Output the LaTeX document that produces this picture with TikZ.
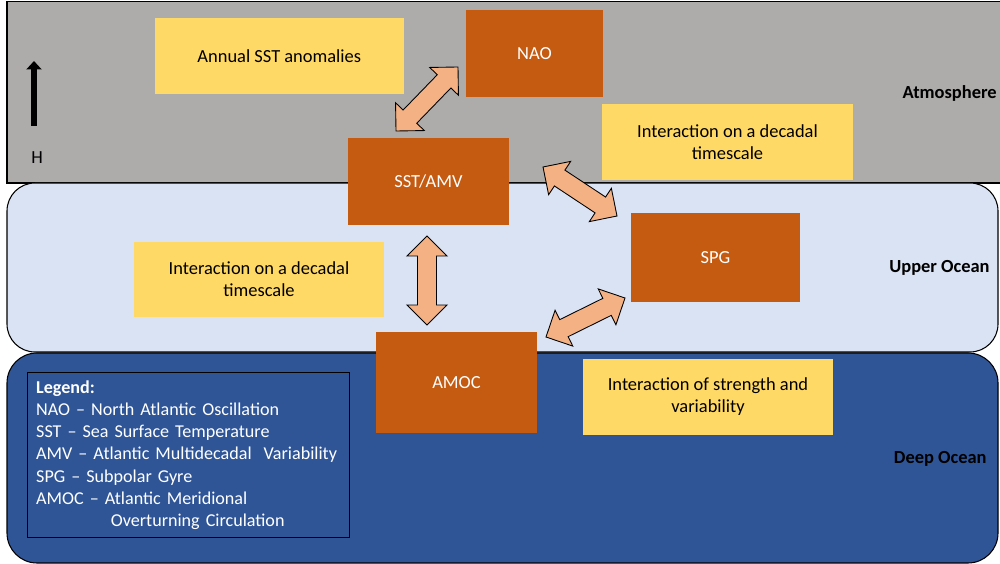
\documentclass[tikz,border=0pt]{standalone}
\usepackage{fontspec}
\setmainfont{Carlito}
\usetikzlibrary{calc,arrows.meta}

\definecolor{atmgray}{HTML}{AEABAB}
\definecolor{upperblue}{HTML}{DAE3F3}
\definecolor{deepblue}{HTML}{2F5597}
\definecolor{procorange}{HTML}{C55A11}
\definecolor{noteyellow}{HTML}{FFD966}
\definecolor{linkpeach}{HTML}{F4B183}

% block double arrow between two named points
\newcommand\fatlink[2]{%
  \coordinate (#1h) at ($(#1)!0.4cm!(#2)$);
  \coordinate (#2h) at ($(#2)!0.4cm!(#1)$);
  \draw[linkarrow] (#1)
    -- ($(#1h)!0.4cm!90:(#2)$) -- ($(#1h)!0.19cm!90:(#2)$)
    -- ($(#2h)!0.19cm!-90:(#1)$) -- ($(#2h)!0.4cm!-90:(#1)$)
    -- (#2)
    -- ($(#2h)!0.4cm!90:(#1)$) -- ($(#2h)!0.19cm!90:(#1)$)
    -- ($(#1h)!0.19cm!-90:(#2)$) -- ($(#1h)!0.4cm!-90:(#2)$)
    -- cycle;}

\tikzset{
  txt/.style={font=\fontsize{10.5pt}{12.6pt}\selectfont},
  layer/.style={draw=black, line width=0.6pt},
  proc/.style={txt, fill=procorange, text=white, inner sep=0pt},
  note/.style={txt, fill=noteyellow, text=black, align=center, inner sep=0pt},
  zone/.style={txt, font=\fontsize{10.5pt}{12.6pt}\selectfont\bfseries, text=black, anchor=east, inner sep=0pt},
  linkarrow/.style={fill=linkpeach, draw=black, line width=0.5pt, line join=miter},
}

\begin{document}
\begin{tikzpicture}[x=0.02cm, y=-0.02cm]
  \path[use as bounding box, fill=white] (0,0) rectangle (1000,564);
  \clip (0,0) rectangle (1000,564);

  % layers
  \draw[layer, fill=atmgray] (7,1.3) rectangle (1010,183);
  \draw[layer, fill=upperblue, rounded corners=0.56cm] (7,183) rectangle (998,352);
  \draw[layer, fill=deepblue, rounded corners=0.6cm] (7,353) rectangle (998,563);

  % layer names
  \node[zone] (atm) at (997,93) {Atmosphere};
  \node[zone] (upo) at (990,268) {Upper Ocean};
  \node[zone] (dpo) at (987,459) {Deep Ocean};

  % height indicator
  \coordinate (hlow) at (34,126);
  \coordinate (hhigh) at (34,61);
  \draw[line width=3.5pt, -{Triangle[width=0.3cm, length=0.17cm]}] (hlow) -- (hhigh);
  \node[txt] (hlab) at (37,158) {H};

  % processes
  \node[proc, minimum width=2.74cm, minimum height=1.74cm] (nao) at (534.5,53.5) {NAO};
  \node[proc, minimum width=3.22cm, minimum height=1.74cm] (sst) at (428.5,181.5) {SST/AMV};
  \node[proc, minimum width=3.38cm, minimum height=1.78cm] (spg) at (715.5,257.5) {SPG};
  \node[proc, minimum width=3.22cm, minimum height=2.02cm] (amoc) at (456.5,382.5) {AMOC};

  % notes
  \node[note, minimum width=4.98cm, minimum height=1.52cm] (annual) at (279.3,56) {Annual SST anomalies};
  \node[note, minimum width=5.02cm, minimum height=1.52cm] (decadalA) at (727.5,142) {Interaction on a decadal\\timescale};
  \node[note, minimum width=5.0cm, minimum height=1.5cm] (decadalB) at (259,279.5) {Interaction on a decadal\\timescale};
  \node[note, minimum width=5.0cm, minimum height=1.52cm] (strength) at (708,397) {Interaction of strength and\\variability};

  % links
  \coordinate (naoSst) at (396,131);
  \coordinate (sstNao) at (458,67);
  \coordinate (sstSpg) at (543,167);
  \coordinate (spgSst) at (617,216);
  \coordinate (sstAmoc) at (427,236);
  \coordinate (amocSst) at (427,325);
  \coordinate (spgAmoc) at (546,337);
  \coordinate (amocSpg) at (625,298);
  \fatlink{naoSst}{sstNao}
  \fatlink{sstSpg}{spgSst}
  \fatlink{sstAmoc}{amocSst}
  \fatlink{spgAmoc}{amocSpg}

  % legend
  \node[draw=black, line width=0.8pt, fill=deepblue, text=white,
        anchor=north west, minimum width=6.44cm, minimum height=3.3cm,
        text width=6.1cm, inner xsep=0.15cm, inner ysep=0pt, align=left,
        font=\fontsize{10.3pt}{12.7pt}\selectfont] (legend) at (27,372)
    {\textbf{Legend:}\\
     NAO -- North Atlantic Oscillation\\
     SST -- Sea Surface Temperature\\
     AMV -- Atlantic Multidecadal\ \ Variability\\
     SPG -- Subpolar Gyre\\
     AMOC -- Atlantic Meridional\\
     \hspace*{42.5pt}Overturning Circulation};
\end{tikzpicture}
\end{document}
